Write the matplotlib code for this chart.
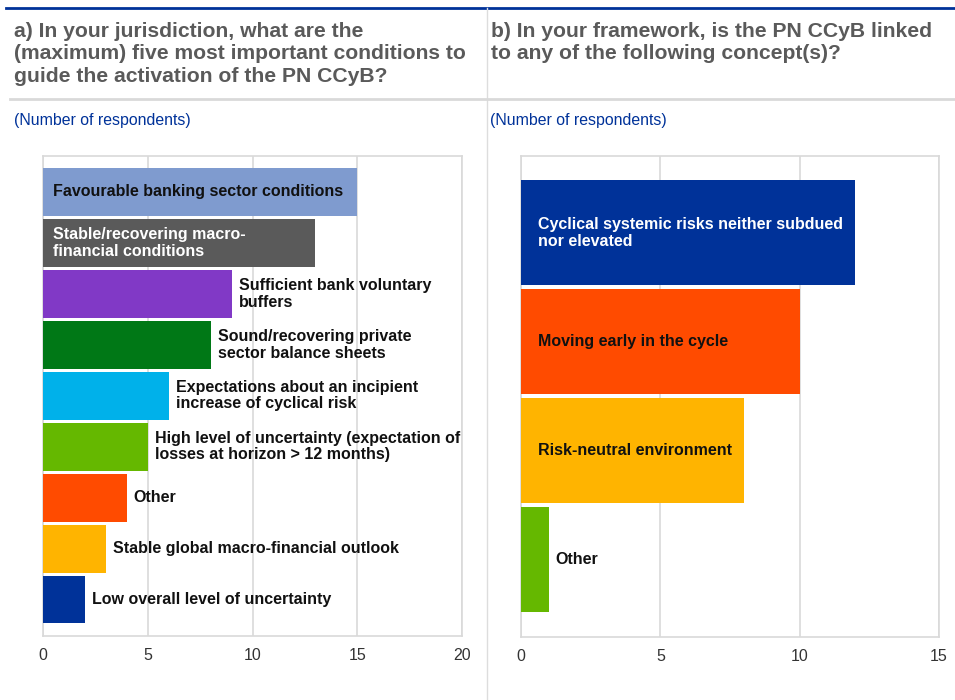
import matplotlib
matplotlib.use("Agg")
import matplotlib.pyplot as plt
from matplotlib.lines import Line2D

# ---- data ----
left_categories = [
    "Favourable banking sector conditions",
    "Stable/recovering macro-\nfinancial conditions",
    "Sufficient bank voluntary\nbuffers",
    "Sound/recovering private\nsector balance sheets",
    "Expectations about an incipient\nincrease of cyclical risk",
    "High level of uncertainty (expectation of\nlosses at horizon > 12 months)",
    "Other",
    "Stable global macro-financial outlook",
    "Low overall level of uncertainty",
]
left_values = [15, 13, 9, 8, 6, 5, 4, 3, 2]
left_colors = ["#7f9bcf", "#5a5a5a", "#8139c6", "#007816", "#00b1ea",
               "#65b800", "#ff4b00", "#ffb400", "#003299"]
left_inside = [True, True, False, False, False, False, False, False, False]
left_text_colors = ["#111111", "white"] + ["#111111"] * 7

right_categories = [
    "Cyclical systemic risks neither subdued\nnor elevated",
    "Moving early in the cycle",
    "Risk-neutral environment",
    "Other",
]
right_values = [12, 10, 8, 1]
right_colors = ["#003299", "#ff4b00", "#ffb400", "#65b800"]
right_inside = [True, True, True, False]
right_text_colors = ["white", "#111111", "#111111", "#111111"]

left_ticks = [0, 5, 10, 15, 20]
right_ticks = [0, 5, 10, 15]

title_a = "a) In your jurisdiction, what are the\n(maximum) five most important conditions to\nguide the activation of the PN CCyB?"
title_b = "b) In your framework, is the PN CCyB linked\nto any of the following concept(s)?"
subtitle = "(Number of respondents)"

plt.rcParams['font.family'] = ['Liberation Sans', 'DejaVu Sans']

W, H = 955, 700
fig = plt.figure(figsize=(W / 100, H / 100), dpi=100)

def fx(px):
    return px / W

def fy(py):
    return 1 - py / H

# frame lines
fig.add_artist(Line2D([fx(6), fx(955)], [fy(8), fy(8)], color="#003299", lw=2.0))
fig.add_artist(Line2D([fx(486.5), fx(486.5)], [fy(8), fy(700)], color="#dddddd", lw=1.0))
fig.add_artist(Line2D([fx(10), fx(955)], [fy(98.5), fy(98.5)], color="#d9d9d9", lw=2.0))

# titles
fig.text(fx(14), fy(22), title_a, ha="left", va="top", fontsize=15.2,
         fontweight="bold", color="#5a5a5a", linespacing=1.22)
fig.text(fx(491), fy(22), title_b, ha="left", va="top", fontsize=15.2,
         fontweight="bold", color="#5a5a5a", linespacing=1.22)
fig.text(fx(14), fy(121), subtitle, ha="left", va="center", fontsize=11.4, color="#003299")
fig.text(fx(490), fy(121), subtitle, ha="left", va="center", fontsize=11.4, color="#003299")


def make_panel(rect, cats, vals, colors, inside, tcolors, ticks, bar_h, in_off):
    ax = fig.add_axes(rect)
    n = len(vals)
    ys = list(range(n))
    ax.barh(ys, vals, height=bar_h, color=colors, zorder=3)
    ax.set_ylim(n - 1 + 0.71, -0.71)
    ax.set_xlim(ticks[0], ticks[-1])
    ax.set_xticks(ticks)
    ax.set_yticks([])
    ax.grid(axis="x", color="#d9d9d9", lw=1.2, zorder=0)
    for s in ax.spines.values():
        s.set_color("#d9d9d9")
        s.set_linewidth(1.2)
    ax.tick_params(axis="x", length=0, pad=9, labelsize=11.5, labelcolor="#333333")
    for y, v, c, ins, tc in zip(ys, vals, cats, inside, tcolors):
        x0, off = (0, in_off) if ins else (v, 7)
        ax.annotate(c, xy=(x0, y), xytext=(off, 0), textcoords="offset pixels",
                    ha="left", va="center", fontsize=11.5, fontweight="bold",
                    color=tc, linespacing=1.13, zorder=4)
    return ax

ax1 = make_panel([fx(43), fy(635.7), (462 - 43) / W, (635.7 - 155.7) / H],
                 left_categories, left_values, left_colors, left_inside, left_text_colors,
                 left_ticks, 0.94, 10)
ax2 = make_panel([fx(521), fy(636.5), (939 - 521) / W, (636.5 - 155.7) / H],
                 right_categories, right_values, right_colors, right_inside, right_text_colors,
                 right_ticks, 0.965, 17)

fig.savefig("out.png", dpi=100)
